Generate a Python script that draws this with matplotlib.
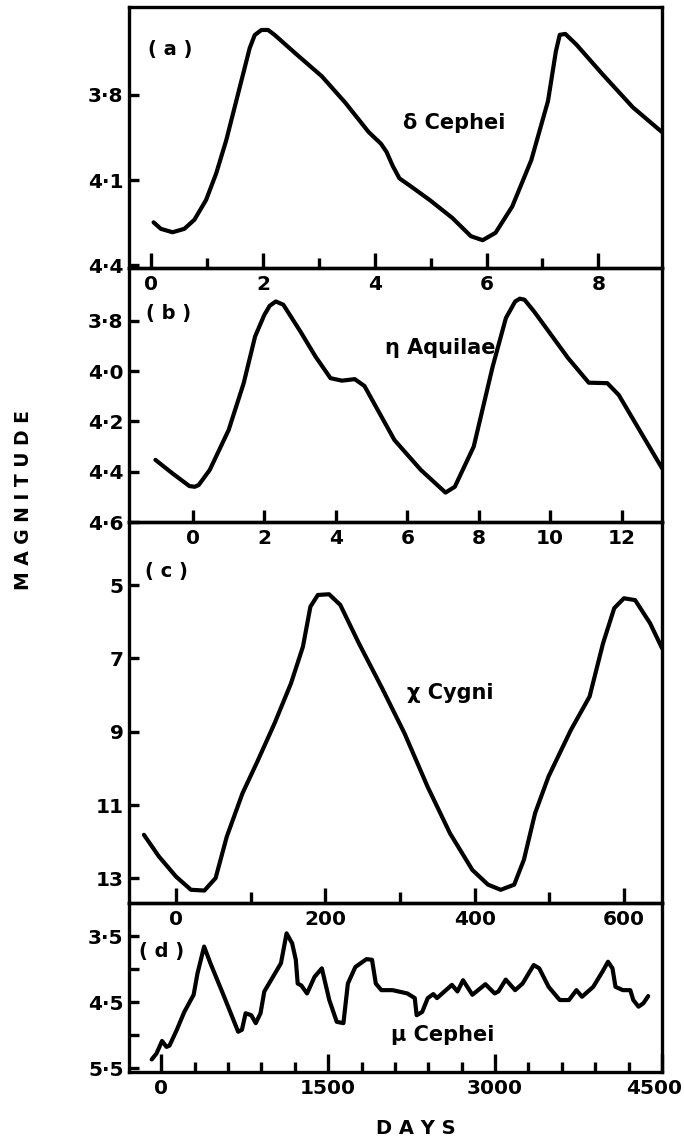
import matplotlib
matplotlib.use("Agg")
import matplotlib.pyplot as plt
from matplotlib.transforms import ScaledTranslation

plt.rcParams['font.family'] = ['DejaVu Sans']
plt.rcParams['font.weight'] = 'bold'

# ---------------- data ----------------
# (a) delta Cephei
a_days = [0.04, 0.17, 0.38, 0.59, 0.77, 0.98, 1.16, 1.34, 1.49, 1.64, 1.76, 1.85, 1.97, 2.09,
          2.21, 2.57, 3.05, 3.47, 3.89, 4.11, 4.21, 4.32, 4.44, 4.65, 4.98, 5.39, 5.72, 5.93,
          6.16, 6.46, 6.80, 7.10, 7.24, 7.31, 7.41, 7.61, 8.08, 8.62, 9.14]
a_mag = [4.249, 4.272, 4.284, 4.272, 4.240, 4.170, 4.077, 3.960, 3.844, 3.728, 3.635, 3.589, 3.571, 3.571,
         3.589, 3.652, 3.734, 3.827, 3.931, 3.972, 4.001, 4.05, 4.094, 4.123, 4.17, 4.234, 4.298, 4.312,
         4.286, 4.193, 4.03, 3.821, 3.647, 3.588, 3.585, 3.623, 3.728, 3.844, 3.931]
a_xticks = [0, 2, 4, 6, 8]
a_xminor = [1, 3, 5, 7]
a_yticks = [3.8, 4.1, 4.4]
a_yticklabels = ['3·8', '4·1', '4·4']

# (b) eta Aquilae
b_days = [-1.05, -0.58, -0.10, 0.05, 0.16, 0.47, 1.0, 1.42, 1.74, 2.0, 2.15, 2.32, 2.53, 3.01,
          3.43, 3.85, 4.17, 4.53, 4.80, 5.64, 6.38, 7.07, 7.33, 7.86, 8.39, 8.76, 9.02, 9.15,
          9.28, 9.55, 10.5, 11.08, 11.6, 11.92, 13.13]
b_mag = [4.353, 4.406, 4.457, 4.46, 4.453, 4.393, 4.234, 4.048, 3.862, 3.776, 3.74, 3.723, 3.736, 3.843,
         3.942, 4.028, 4.038, 4.032, 4.059, 4.274, 4.393, 4.483, 4.46, 4.30, 3.982, 3.789, 3.723, 3.712,
         3.716, 3.763, 3.948, 4.046, 4.048, 4.095, 4.386]
b_xticks = [0, 2, 4, 6, 8, 10, 12]
b_yticks = [3.8, 4.0, 4.2, 4.4, 4.6]
b_yticklabels = ['3·8', '4·0', '4·2', '4·4', '4·6']

# (c) chi Cygni
c_days = [-43, -23, 0, 20, 38, 53, 68, 89, 109, 132, 154, 170, 180, 190, 205, 220, 245, 276,
          306, 337, 367, 397, 418, 435, 453, 466, 481, 499, 529, 554, 572, 587, 600, 615, 635, 651]
c_mag = [11.81, 12.40, 12.95, 13.31, 13.33, 12.99, 11.86, 10.68, 9.81, 8.77, 7.68, 6.68, 5.59, 5.27,
         5.25, 5.54, 6.59, 7.81, 9.04, 10.50, 11.77, 12.77, 13.17, 13.31, 13.17, 12.49, 11.22, 10.22,
         8.95, 8.04, 6.59, 5.63, 5.36, 5.41, 6.04, 6.72]
c_xticks = [0, 200, 400, 600]
c_xminor = [100, 300, 500]
c_yticks = [5, 7, 9, 11, 13]
c_yticklabels = ['5', '7', '9', '11', '13']

# (d) mu Cephei
d_days = [-86, -43, 7, 47, 74, 140, 207, 291, 325, 385, 441, 558, 691, 725, 758, 809, 849, 892,
          926, 1042, 1076, 1126, 1176, 1209, 1226, 1259, 1310, 1377, 1443, 1510, 1577, 1637, 1677,
          1744, 1844, 1894, 1928, 1978, 2078, 2211, 2278, 2295, 2345, 2395, 2445, 2478, 2612, 2662,
          2712, 2796, 2913, 2996, 3030, 3096, 3180, 3247, 3347, 3397, 3481, 3581, 3664, 3731, 3781,
          3882, 3965, 4015, 4055, 4082, 4148, 4215, 4242, 4289, 4332, 4376]
d_mag = [5.37, 5.28, 5.09, 5.18, 5.16, 4.92, 4.65, 4.39, 4.07, 3.66, 3.91, 4.39, 4.95, 4.92, 4.67,
         4.70, 4.82, 4.67, 4.34, 4.01, 3.91, 3.46, 3.61, 3.86, 4.22, 4.25, 4.37, 4.12, 3.99, 4.47,
         4.80, 4.82, 4.22, 3.97, 3.85, 3.86, 4.22, 4.32, 4.32, 4.37, 4.44, 4.70, 4.65, 4.44, 4.38,
         4.44, 4.24, 4.34, 4.17, 4.39, 4.23, 4.37, 4.34, 4.16, 4.32, 4.22, 3.94, 3.99, 4.27, 4.47,
         4.47, 4.32, 4.42, 4.27, 4.04, 3.89, 3.99, 4.27, 4.32, 4.32, 4.47, 4.57, 4.52, 4.41]
d_xticks = [0, 1500, 3000, 4500]
d_xminor = [300, 600, 900, 1200, 1800, 2100, 2400, 2700, 3300, 3600, 3900, 4200]
d_yticks = [3.5, 4.5, 5.5]
d_yticklabels = ['3·5', '4·5', '5·5']
d_yminor = [4.0, 5.0]

panel_letters = ['( a )', '( b )', '( c )', '( d )']
star_names = ['δ Cephei', 'η Aquilae', 'χ Cygni', 'μ Cephei']

# ---------------- layout ----------------
W_PX, H_PX = 684, 1145
fig = plt.figure(figsize=(W_PX / 100, H_PX / 100), dpi=100)
LEFT_PX, RIGHT_PX = 129, 662
left = LEFT_PX / W_PX
width = (RIGHT_PX - LEFT_PX) / W_PX

def rect(top_px, bot_px):
    return [left, 1 - bot_px / H_PX, width, (bot_px - top_px) / H_PX]

LW = 3.0
SPINE = 2.4
TICKFS = 14.5
NAMEFS = 15
LETTERFS = 14

def style(ax, xmaj_len=9, xmin_len=6):
    ax.set_facecolor('none')
    for s in ax.spines.values():
        s.set_linewidth(SPINE)
    ax.tick_params(axis='both', which='both', direction='in', width=2.4, colors='black',
                   labelsize=TICKFS, top=False, right=False)
    ax.tick_params(axis='y', which='major', length=7.5, pad=4)
    ax.tick_params(axis='y', which='minor', length=7.5)
    ax.tick_params(axis='x', which='major', length=xmaj_len, pad=5)
    ax.tick_params(axis='x', which='minor', length=xmin_len)
    for lbl in ax.get_xticklabels() + ax.get_yticklabels():
        lbl.set_fontweight('bold')

def draw(ax, x, y):
    ax.plot(x, y, color='black', lw=LW, solid_joinstyle='round', solid_capstyle='round')

# (a)
axa = fig.add_axes(rect(7, 268))
draw(axa, a_days, a_mag)
axa.set_xlim(-0.40, 9.14)
axa.set_ylim(4.41, 3.49)
axa.set_xticks(a_xticks)
axa.set_xticks(a_xminor, minor=True)
axa.set_yticks(a_yticks)
axa.set_yticklabels(a_yticklabels)
style(axa, 10.5, 7)
axa.text(0.34, 3.64, panel_letters[0], fontsize=LETTERFS, ha='center', va='center')
axa.text(5.42, 3.90, star_names[0], fontsize=NAMEFS, ha='center', va='center')

# (b)
axb = fig.add_axes(rect(268, 522))
draw(axb, b_days, b_mag)
axb.set_xlim(-1.79, 13.13)
axb.set_ylim(4.6, 3.59)
axb.set_xticks(b_xticks)
axb.set_yticks(b_yticks)
axb.set_yticklabels(b_yticklabels)
style(axb, 9, 6)
axb.text(-0.68, 3.77, panel_letters[1], fontsize=LETTERFS, ha='center', va='center')
axb.text(6.91, 3.91, star_names[1], fontsize=NAMEFS, ha='center', va='center')

# (c)
axc = fig.add_axes(rect(522, 903))
draw(axc, c_days, c_mag)
axc.set_xlim(-63, 651)
axc.set_ylim(13.67, 3.28)
axc.set_xticks(c_xticks)
axc.set_xticks(c_xminor, minor=True)
axc.set_yticks(c_yticks)
axc.set_yticklabels(c_yticklabels)
style(axc, 11, 8)
axc.text(-13, 4.64, panel_letters[2], fontsize=LETTERFS, ha='center', va='center')
axc.text(367, 7.95, star_names[2], fontsize=NAMEFS, ha='center', va='center')

# (d)
axd = fig.add_axes(rect(903, 1072))
draw(axd, d_days, d_mag)
axd.set_xlim(-290, 4500)
axd.set_ylim(5.56, 3.0)
axd.set_xticks(d_xticks)
axd.set_xticks(d_xminor, minor=True)
axd.set_yticks(d_yticks)
axd.set_yticklabels(d_yticklabels)
axd.set_yticks(d_yminor, minor=True)
style(axd, 13, 7)
axd.text(7, 3.74, panel_letters[3], fontsize=LETTERFS, ha='center', va='center')
axd.text(2529, 5.0, star_names[3], fontsize=NAMEFS, ha='center', va='center')
# the last label sits slightly left of the frame corner, as in the original
last_lbl = axd.xaxis.get_major_ticks()[-1].label1
last_lbl.set_transform(last_lbl.get_transform() + ScaledTranslation(-8 / 100, 0, fig.dpi_scale_trans))

fig.text(24 / W_PX, 1 - 500 / H_PX, 'M A G N I T U D E', rotation=90, fontsize=13.5,
         ha='center', va='center', fontweight='bold')
fig.text(416 / W_PX, 1 - 1128 / H_PX, 'D A Y S', fontsize=14, ha='center', va='center',
         fontweight='bold')

fig.savefig('out.png', dpi=100)
